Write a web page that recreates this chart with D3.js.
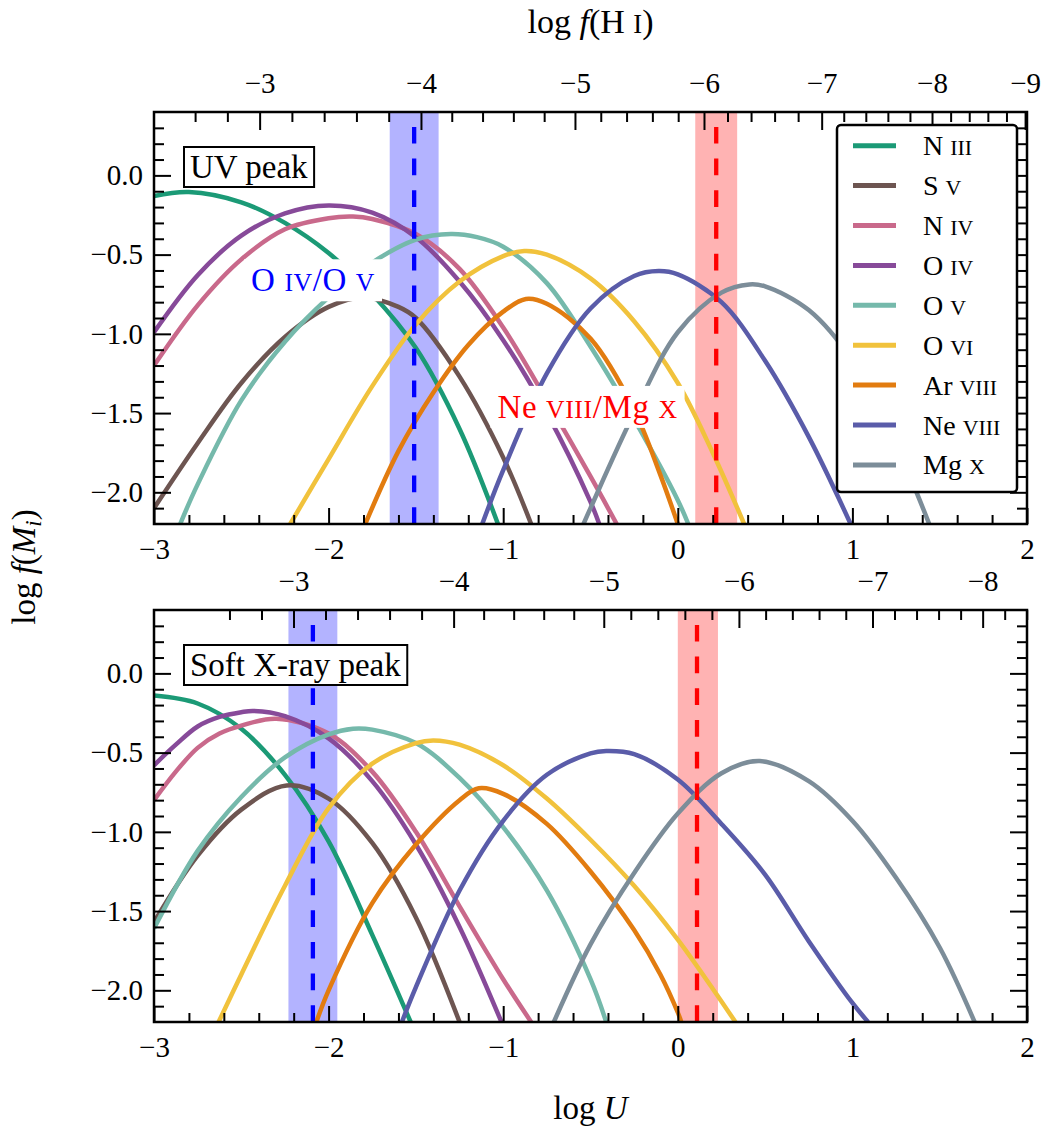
<!DOCTYPE html>
<html>
<head>
<meta charset="utf-8">
<script src="https://cdn.jsdelivr.net/npm/d3@7"></script>
<style>
  body { margin: 0; background: #fff; }
  svg text { font-family: "Liberation Serif", "DejaVu Serif", serif; fill: #000; }
</style>
</head>
<body>
<svg id="chart" width="1054" height="1128"></svg>
<script>
// ions, same order as the legend
const ionNames = ["N III", "S V", "N IV", "O IV", "O V", "O VI", "Ar VIII", "Ne VIII", "Mg X"];
const ionColors = ["#1b9a76", "#6d5551", "#c9698b", "#874a99", "#75b9ab", "#f1c23c", "#e27c10", "#5a5ca9", "#7c8d99"];

// log f(M_i) against log U
const uvCurves = [
  [[-3.0,-0.13],[-2.8,-0.105],[-2.5,-0.17],[-2.25,-0.30],[-2.0,-0.49],[-1.75,-0.75],[-1.5,-1.09],[-1.25,-1.6],[-1.03,-2.2]],
  [[-3.0,-2.10],[-2.75,-1.69],[-2.5,-1.31],[-2.25,-1.02],[-2.0,-0.83],[-1.8,-0.77],[-1.6,-0.83],[-1.5,-0.90],[-1.25,-1.27],[-1.0,-1.78],[-0.84,-2.2]],
  [[-3.0,-1.20],[-2.75,-0.82],[-2.5,-0.53],[-2.25,-0.34],[-2.0,-0.27],[-1.86,-0.26],[-1.75,-0.275],[-1.5,-0.37],[-1.25,-0.59],[-1.0,-0.96],[-0.75,-1.42],[-0.5,-1.90],[-0.35,-2.2]],
  [[-3.0,-0.99],[-2.75,-0.63],[-2.5,-0.38],[-2.25,-0.24],[-2.0,-0.19],[-1.75,-0.235],[-1.5,-0.39],[-1.25,-0.67],[-1.0,-1.04],[-0.75,-1.50],[-0.5,-2.06],[-0.45,-2.2]],
  [[-2.85,-2.2],[-2.75,-1.95],[-2.5,-1.42],[-2.25,-1.05],[-2.0,-0.77],[-1.75,-0.55],[-1.5,-0.405],[-1.3,-0.37],[-1.15,-0.39],[-1.0,-0.45],[-0.75,-0.68],[-0.5,-1.08],[-0.25,-1.54],[0.0,-2.05],[0.06,-2.2]],
  [[-2.22,-2.2],[-2.0,-1.79],[-1.75,-1.33],[-1.5,-0.94],[-1.25,-0.67],[-1.0,-0.51],[-0.88,-0.477],[-0.75,-0.50],[-0.5,-0.65],[-0.25,-0.92],[0.0,-1.31],[0.2,-1.75],[0.38,-2.2]],
  [[-1.79,-2.2],[-1.6,-1.74],[-1.4,-1.37],[-1.2,-1.07],[-1.0,-0.86],[-0.87,-0.78],[-0.75,-0.81],[-0.5,-1.03],[-0.25,-1.48],[-0.1,-1.89],[0.0,-2.2]],
  [[-1.12,-2.2],[-1.0,-1.86],[-0.75,-1.25],[-0.5,-0.84],[-0.25,-0.635],[-0.11,-0.604],[0.0,-0.625],[0.25,-0.80],[0.5,-1.17],[0.75,-1.65],[0.99,-2.2]],
  [[-0.54,-2.2],[-0.5,-2.1],[-0.25,-1.50],[0.0,-0.99],[0.25,-0.74],[0.41,-0.688],[0.5,-0.70],[0.75,-0.85],[1.0,-1.17],[1.25,-1.70],[1.44,-2.2]]
];

// same ions, soft X-ray peak panel
const xrayCurves = [
  [[-3.0,-0.14],[-2.75,-0.19],[-2.5,-0.35],[-2.25,-0.64],[-2.0,-1.06],[-1.75,-1.65],[-1.53,-2.2]],
  [[-3.0,-1.57],[-2.75,-1.15],[-2.5,-0.86],[-2.24,-0.707],[-2.0,-0.79],[-1.75,-1.07],[-1.5,-1.54],[-1.25,-2.2]],
  [[-3.0,-0.80],[-2.875,-0.62],[-2.75,-0.47],[-2.625,-0.38],[-2.5,-0.33],[-2.3,-0.286],[-2.0,-0.38],[-1.75,-0.62],[-1.5,-1.0],[-1.25,-1.47],[-1.0,-1.93],[-0.84,-2.2]],
  [[-3.0,-0.58],[-2.875,-0.45],[-2.75,-0.335],[-2.625,-0.275],[-2.5,-0.245],[-2.43,-0.237],[-2.25,-0.27],[-2.0,-0.41],[-1.75,-0.68],[-1.5,-1.08],[-1.25,-1.60],[-1.01,-2.2]],
  [[-3.0,-1.61],[-2.75,-1.12],[-2.5,-0.78],[-2.25,-0.53],[-2.0,-0.385],[-1.86,-0.349],[-1.75,-0.355],[-1.5,-0.44],[-1.25,-0.66],[-1.0,-0.97],[-0.75,-1.37],[-0.5,-1.93],[-0.41,-2.2]],
  [[-2.63,-2.2],[-2.5,-1.90],[-2.25,-1.34],[-2.0,-0.85],[-1.75,-0.57],[-1.5,-0.44],[-1.4,-0.423],[-1.25,-0.45],[-1.0,-0.58],[-0.75,-0.79],[-0.5,-1.05],[-0.25,-1.34],[0.0,-1.68],[0.2,-1.99],[0.33,-2.2]],
  [[-2.07,-2.2],[-2.0,-2.0],[-1.75,-1.45],[-1.5,-1.08],[-1.25,-0.80],[-1.14,-0.725],[-1.0,-0.76],[-0.75,-0.95],[-0.5,-1.25],[-0.25,-1.62],[-0.1,-1.90],[0.0,-2.14],[0.02,-2.2]],
  [[-1.58,-2.2],[-1.5,-1.98],[-1.25,-1.37],[-1.0,-0.93],[-0.75,-0.64],[-0.5,-0.505],[-0.41,-0.49],[-0.25,-0.51],[0.0,-0.67],[0.25,-0.95],[0.5,-1.27],[0.75,-1.69],[1.0,-2.08],[1.09,-2.2]],
  [[-0.71,-2.2],[-0.5,-1.71],[-0.25,-1.26],[0.0,-0.885],[0.25,-0.63],[0.47,-0.553],[0.75,-0.68],[1.0,-0.93],[1.25,-1.29],[1.5,-1.73],[1.7,-2.2]]
];

const panelTitles = ["UV peak", "Soft X-ray peak"];
const ratioNames = ["O IV/O V", "Ne VIII/Mg X"];

// measured log U with its range (blue: O IV/O V, red: Ne VIII/Mg X)
const oLines = [-1.51, -2.09];
const oBands = [[-1.65, -1.37], [-2.23, -1.95]];
const neLines = [0.22, 0.11];
const neBands = [[0.10, 0.34], [0.0, 0.23]];

// top axis: log f(H I) labels and the log U where each one sits
const hiTickLabels = [-3, -4, -5, -6, -7, -8, -9];
const uvHiTickPos = [-2.395, -1.471, -0.589, 0.150, 0.824, 1.456, 1.989];
const xrayHiTickPos = [-2.201, -1.284, -0.424, 0.350, 1.115, 1.746];

const xMajor = [-3, -2, -1, 0, 1, 2];
const yMajor = [0, -0.5, -1, -1.5, -2];

const svg = d3.select("#chart");
const X0 = 154, X1 = 1027;
const x = d3.scaleLinear().domain([-3, 2]).range([X0, X1]);
const fmtInt = d3.format("d");
const fmtY = d3.format(".1f");
const SC = 0.78; // small caps ratio

// roman numerals in small caps
function ionText(sel, str, size) {
  str.split(/( [IVX]+)(?=\/|$)/).filter(s => s.length).forEach(part => {
    if (/^ [IVX]+$/.test(part)) {
      sel.append("tspan").text(" ");
      sel.append("tspan").attr("font-size", size * SC).text(part.trim());
    } else {
      sel.append("tspan").text(part);
    }
  });
}

const panels = [
  { top: 112, bottom: 524, curves: uvCurves, title: panelTitles[0], hiPos: uvHiTickPos, hiLast: -9,
    oLine: oLines[0], oBand: oBands[0], neLine: neLines[0], neBand: neBands[0] },
  { top: 610, bottom: 1022, curves: xrayCurves, title: panelTitles[1], hiPos: xrayHiTickPos, hiLast: -8.4,
    oLine: oLines[1], oBand: oBands[1], neLine: neLines[1], neBand: neBands[1] }
];

panels.forEach((p, pi) => {
  const y = d3.scaleLinear().domain([-2.2, 0.4]).range([p.bottom, p.top]);
  const g = svg.append("g");

  g.append("clipPath").attr("id", "clip" + pi)
    .append("rect").attr("x", X0).attr("y", p.top).attr("width", X1 - X0).attr("height", p.bottom - p.top);

  // shaded ranges
  [[p.oBand, "#b3b3ff"], [p.neBand, "#ffb3b3"]].forEach(([b, c]) => {
    g.append("rect")
      .attr("x", x(b[0])).attr("width", x(b[1]) - x(b[0]))
      .attr("y", p.top).attr("height", p.bottom - p.top)
      .attr("fill", c);
  });

  const line = d3.line().x(d => x(d[0])).y(d => y(d[1])).curve(d3.curveCatmullRom.alpha(0.5));
  g.append("g").attr("clip-path", `url(#clip${pi})`)
    .selectAll("path")
    .data(p.curves)
    .join("path")
    .attr("d", line)
    .attr("fill", "none")
    .attr("stroke", (d, i) => ionColors[i])
    .attr("stroke-width", 4.5);

  [[p.oLine, "#0000ff"], [p.neLine, "#ff0000"]].forEach(([v, c]) => {
    g.append("line")
      .attr("x1", x(v)).attr("x2", x(v))
      .attr("y1", p.bottom).attr("y2", p.top)
      .attr("stroke", c).attr("stroke-width", 4.3)
      .attr("stroke-dasharray", "16.7 15");
  });

  // axes, ticks pointing inward
  const styleAxis = a => {
    a.select(".domain").remove();
    a.attr("font-family", null).attr("font-size", 29);
    a.selectAll("line").attr("stroke-width", 2);
    a.selectAll("text").attr("fill", "#000");
  };
  const xMinor = d3.range(-3, 2.001, 0.2).map(v => +v.toFixed(1)).filter(v => !Number.isInteger(v));
  const yMinor = d3.range(-2.1, 0.35, 0.1).map(v => +v.toFixed(1)).filter(v => !yMajor.includes(v));

  g.append("g").attr("transform", `translate(0,${p.bottom})`)
    .call(d3.axisBottom(x).tickValues(xMajor).tickFormat(fmtInt).tickSizeInner(-16).tickSizeOuter(0).tickPadding(14))
    .call(styleAxis);
  g.append("g").attr("transform", `translate(0,${p.bottom})`)
    .call(d3.axisBottom(x).tickValues(xMinor).tickFormat("").tickSizeInner(-9).tickSizeOuter(0))
    .call(styleAxis);

  g.append("g").attr("transform", `translate(${X0},0)`)
    .call(d3.axisLeft(y).tickValues(yMajor).tickFormat(fmtY).tickSizeInner(-17).tickSizeOuter(0).tickPadding(11))
    .call(styleAxis);
  g.append("g").attr("transform", `translate(${X0},0)`)
    .call(d3.axisLeft(y).tickValues(yMinor).tickFormat("").tickSizeInner(-10).tickSizeOuter(0))
    .call(styleAxis);
  g.append("g").attr("transform", `translate(${X1},0)`)
    .call(d3.axisRight(y).tickValues(yMajor).tickFormat("").tickSizeInner(-17).tickSizeOuter(0))
    .call(styleAxis);
  g.append("g").attr("transform", `translate(${X1},0)`)
    .call(d3.axisRight(y).tickValues(yMinor).tickFormat("").tickSizeInner(-10).tickSizeOuter(0))
    .call(styleAxis);

  // top axis: log f(H I)
  const hiLabels = hiTickLabels.slice(0, p.hiPos.length);
  const hiScale = d3.scaleLinear().domain(hiLabels).range(p.hiPos);
  const hiMinor = d3.range(-2.6, p.hiLast - 0.01, -0.2).map(v => +v.toFixed(1)).filter(v => !Number.isInteger(v));
  g.append("g").attr("transform", `translate(0,${p.top})`)
    .call(d3.axisTop(x).tickValues(p.hiPos).tickFormat((d, i) => fmtInt(hiLabels[i])).tickSizeInner(-18).tickSizeOuter(0).tickPadding(19))
    .call(styleAxis);
  g.append("g").attr("transform", `translate(0,${p.top})`)
    .call(d3.axisTop(x).tickValues(hiMinor.map(h => hiScale(h))).tickFormat("").tickSizeInner(-10).tickSizeOuter(0))
    .call(styleAxis);

  g.append("rect")
    .attr("x", X0).attr("y", p.top).attr("width", X1 - X0).attr("height", p.bottom - p.top)
    .attr("fill", "none").attr("stroke", "#000").attr("stroke-width", 2.5);

  // panel title in a box
  const tg = g.append("g");
  const tt = tg.append("text").attr("x", X0 + 36).attr("y", p.top + 66).attr("font-size", 33).text(p.title);
  const tb = tt.node().getBBox();
  tg.insert("rect", "text")
    .attr("x", tb.x - 6).attr("y", tb.y - 2).attr("width", tb.width + 12).attr("height", tb.height + 4)
    .attr("fill", "#fff").attr("stroke", "#000").attr("stroke-width", 2);

  if (pi === 0) {
    // ratio labels
    const ratioSpots = [[-2.089, -0.662, "#0000ff"], [-0.517, -1.461, "#ff0000"]];
    ratioNames.forEach((name, k) => {
      const [u, v, c] = ratioSpots[k];
      const lg = g.append("g");
      const t = lg.append("text")
        .attr("x", x(u)).attr("y", y(v) + 11)
        .attr("text-anchor", "middle").attr("font-size", 33)
        .attr("letter-spacing", 0.6)
        .style("fill", c);
      ionText(t, name, 33);
      const b = t.node().getBBox();
      lg.insert("rect", "text")
        .attr("x", b.x - 7).attr("y", b.y - 3).attr("width", b.width + 14).attr("height", b.height + 6)
        .attr("fill", "#fff");
    });

    // legend
    const lx = X1 - 190, ly = p.top + 13, rowH = 39.9;
    const leg = g.append("g");
    leg.append("rect").attr("x", lx).attr("y", ly).attr("width", 180).attr("height", 367)
      .attr("rx", 4).attr("fill", "#fff").attr("stroke", "#000").attr("stroke-width", 2.5);
    ionNames.forEach((name, i) => {
      const ry = ly + 20.7 + i * rowH;
      leg.append("line").attr("x1", lx + 16).attr("x2", lx + 59).attr("y1", ry).attr("y2", ry)
        .attr("stroke", ionColors[i]).attr("stroke-width", 5);
      const t = leg.append("text").attr("x", lx + 86).attr("y", ry + 9.5).attr("font-size", 28);
      ionText(t, name, 28);
    });
  }
});

// axis titles
const titleTop = svg.append("text").attr("x", (X0 + X1) / 2).attr("y", 33).attr("text-anchor", "middle").attr("font-size", 34);
titleTop.append("tspan").text("log ");
titleTop.append("tspan").attr("font-style", "italic").text("f");
titleTop.append("tspan").text("(H ");
titleTop.append("tspan").attr("font-size", 34 * SC).text("I");
titleTop.append("tspan").text(")");

const titleBottom = svg.append("text").attr("x", (X0 + X1) / 2).attr("y", 1119).attr("text-anchor", "middle").attr("font-size", 33);
titleBottom.append("tspan").text("log ");
titleBottom.append("tspan").attr("font-style", "italic").text("U");

const titleLeft = svg.append("text").attr("transform", "translate(35,567) rotate(-90)").attr("text-anchor", "middle").attr("font-size", 33);
titleLeft.append("tspan").text("log ");
titleLeft.append("tspan").attr("font-style", "italic").text("f");
titleLeft.append("tspan").text("(");
titleLeft.append("tspan").attr("font-style", "italic").text("M");
titleLeft.append("tspan").attr("font-style", "italic").attr("font-size", 23).attr("dy", 6).text("i");
titleLeft.append("tspan").attr("dy", -6).text(")");
</script>
</body>
</html>
